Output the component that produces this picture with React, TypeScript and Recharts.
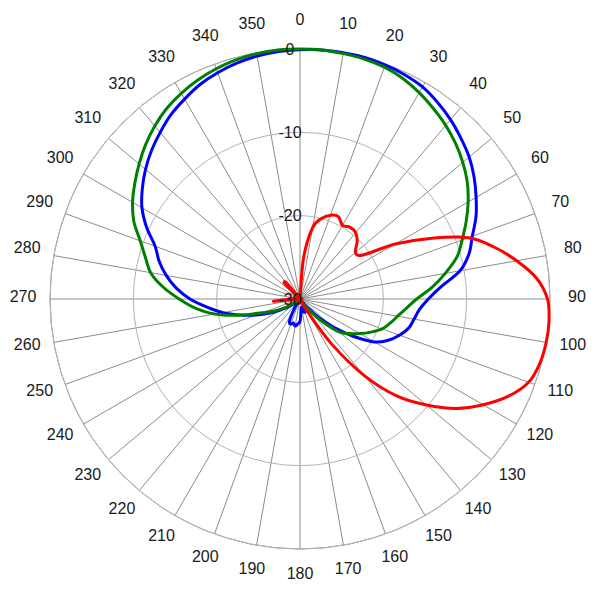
import React from "react";
import {
  RadarChart,
  PolarGrid,
  PolarAngleAxis,
  PolarRadiusAxis,
  Radar,
} from "recharts";

// angle in degrees, clockwise from the top, 5 degree steps
const angles = Array.from({ length: 72 }, (_, i) => i * 5);

const blueGain = [
  -0.1, 0, 0, 0, -0.1, -0.3, -0.6, -1.2, -1.9, -2.7, -3.5, -4.5,
  -5.6, -6.7, -8.0, -9.0, -10.5, -13.0, -14.6, -15.6, -16.1, -16.5, -17.3, -18.3,
  -19.7, -22.2, -24.7, -26.9, -29, -29.5, -29, -28.5, -28.3, -28.5, -29, -28.5,
  -27.3, -27, -26.7, -27, -26.8, -27, -28.5, -30, -30, -30, -29.5, -28.5,
  -27.5, -26, -24.4, -22.6, -20.6, -18.8, -16.8, -15.1, -13.7, -12.5, -11.5, -9.7,
  -8.1, -6.9, -5.8, -4.8, -3.9, -3.0, -2.3, -1.6, -1.1, -0.7, -0.4, -0.2,
];

const greenGain = [
  0, 0, -0.1, -0.2, -0.4, -0.8, -1.4, -2.1, -2.8, -3.6, -4.5, -5.5,
  -6.7, -8.0, -9.3, -10.5, -12.3, -14.1, -16.0, -17.2, -18.1, -18.8, -19.5, -20.6,
  -21.7, -22.8, -23.8, -26, -28, -30, -30, -30, -30, -30, -30, -30,
  -30, -30, -30, -30, -30, -30, -30, -30, -30, -30, -30, -29,
  -27.8, -26.6, -25.2, -22.5, -19.6, -17.4, -15.5, -13.5, -11.8, -10.8, -9.6, -8.0,
  -6.8, -5.8, -4.8, -3.8, -2.9, -2.1, -1.5, -1.0, -0.6, -0.3, -0.1, 0,
];

const redGain = [
  -30, -25, -21.3, -20.0, -19.3, -19.1, -19.8, -19.5, -19.6, -20.3, -21.3, -20.8,
  -16.8, -12.8, -8.5, -5.9, -3.6, -1.5, -0.3, 0, 0, -0.2, -0.8, -2.4,
  -4.6, -7.1, -10.2, -13.5, -18, -23.5, -28.5, -30, -30, -30, -30, -30,
  -30, -30, -30, -30, -30, -30, -30, -30, -30, -30, -30, -30,
  -30, -30, -30, -30, -30, -26.8, -29, -30, -30, -30, -30, -30,
  -30, -30, -30, -27.5, -27.5, -30, -30, -30, -30, -30, -30, -30,
];

const radiusTicks = [-30, -20, -10, 0];

const rows = angles.map((a, i) => ({
  angle: a,
  blue: blueGain[i],
  green: greenGain[i],
  red: redGain[i],
}));

const CX = 300;
const CY = 299;
const R = 250;

// spokes every 10 degrees, in recharts' angle convention (counter-clockwise from 3 o'clock)
const spokeAngles = Array.from({ length: 36 }, (_, i) => 90 - i * 10);

// closed catmull-rom curve through the points recharts computed
const smoothPath = (pts: { x: number; y: number }[]) => {
  const n = pts.length;
  if (!n) return "";
  let d = `M${pts[0].x},${pts[0].y}`;
  for (let i = 0; i < n; i++) {
    const p0 = pts[(i - 1 + n) % n];
    const p1 = pts[i];
    const p2 = pts[(i + 1) % n];
    const p3 = pts[(i + 2) % n];
    const c1x = p1.x + (p2.x - p0.x) / 6;
    const c1y = p1.y + (p2.y - p0.y) / 6;
    const c2x = p2.x - (p3.x - p1.x) / 6;
    const c2y = p2.y - (p3.y - p1.y) / 6;
    d += ` C${c1x},${c1y} ${c2x},${c2y} ${p2.x},${p2.y}`;
  }
  return d + " Z";
};

const curve = (color: string) => (props: any) => (
  <path
    d={smoothPath(props.points || [])}
    stroke={color}
    strokeWidth={3}
    fill="none"
    strokeLinejoin="round"
  />
);

const AngleTick = (props: any) => {
  const v = Number(props.payload?.value);
  if (v % 10 !== 0) return <g />;
  const rad = (v * Math.PI) / 180;
  const x = CX + 277 * Math.sin(rad);
  const y = CY - 3 - 277 * Math.cos(rad);
  return (
    <text
      x={x}
      y={y}
      textAnchor="middle"
      dominantBaseline="central"
      fontSize={16}
      fill="#1a1a1a"
      fontFamily="Liberation Sans, Arial, sans-serif"
    >
      {v}
    </text>
  );
};

const RadiusTick = (props: any) => {
  const { x, y, payload } = props;
  return (
    <text
      x={x - 10}
      y={y}
      textAnchor="middle"
      dominantBaseline="central"
      fontSize={16}
      fill="#1a1a1a"
      fontFamily="Liberation Sans, Arial, sans-serif"
    >
      {payload.value}
    </text>
  );
};

export default function App() {
  return (
    <div style={{ position: "absolute", left: 0, top: 0, background: "#fff" }}>
      <RadarChart
        width={600}
        height={600}
        data={rows}
        cx={CX}
        cy={CY}
        outerRadius={R}
        startAngle={90}
        endAngle={-270}
        margin={{ top: 0, right: 0, bottom: 0, left: 0 }}
      >
        <PolarGrid
          gridType="circle"
          polarAngles={spokeAngles}
          polarRadius={[R]}
          stroke="#8c8c8c"
        />
        <PolarGrid
          gridType="circle"
          radialLines={false}
          polarRadius={[R / 3, (2 * R) / 3, R]}
          stroke="#b4b4b4"
        />
        <PolarAngleAxis
          dataKey="angle"
          tick={AngleTick}
          axisLine={false}
          tickLine={false}
        />
        <PolarRadiusAxis
          type="number"
          domain={[-30, 0]}
          ticks={radiusTicks}
          angle={90}
          axisLine={false}
          tickLine={false}
          tick={RadiusTick}
        />
        <Radar
          dataKey="blue"
          stroke="#0000ff"
          strokeWidth={3}
          fill="none"
          dot={false}
          shape={curve("#0000ff")}
          isAnimationActive={false}
        />
        <Radar
          dataKey="green"
          stroke="#008000"
          strokeWidth={3}
          fill="none"
          dot={false}
          shape={curve("#008000")}
          isAnimationActive={false}
        />
        <Radar
          dataKey="red"
          stroke="#ff0000"
          strokeWidth={3}
          fill="none"
          dot={false}
          shape={curve("#ff0000")}
          isAnimationActive={false}
        />
      </RadarChart>
    </div>
  );
}
